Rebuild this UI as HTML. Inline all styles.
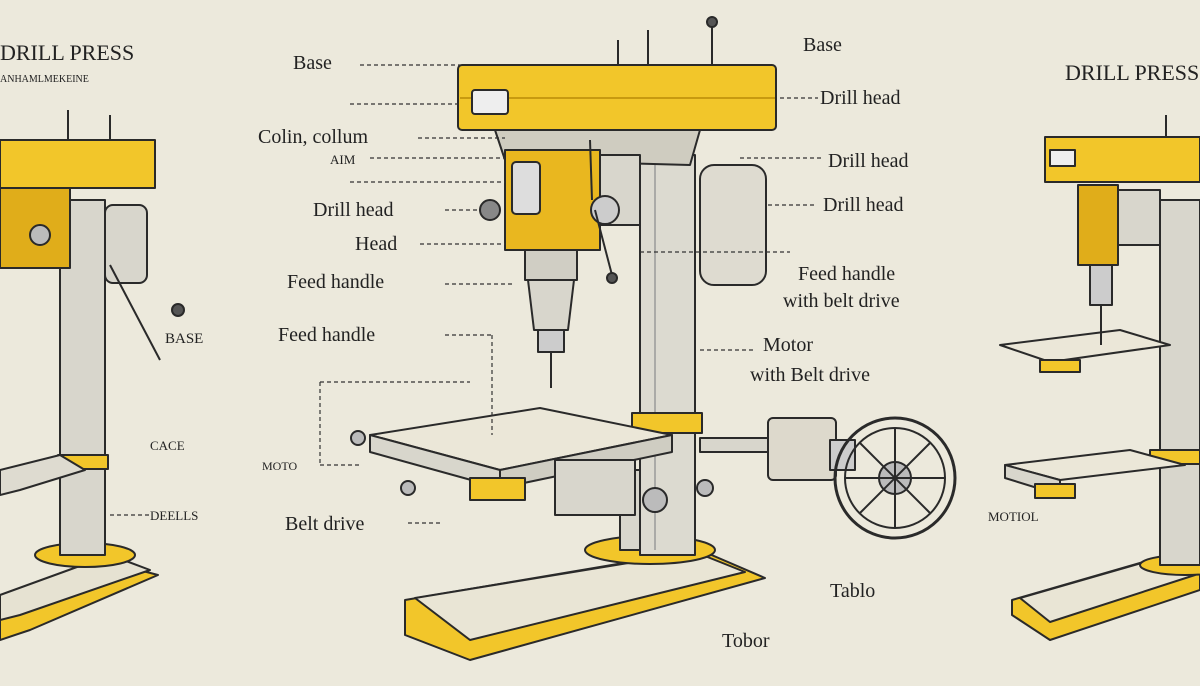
<!DOCTYPE html>
<html><head><meta charset="utf-8"><style>
html,body{margin:0;padding:0;background:#ece9dc;}
svg{display:block}
text{font-family:"Liberation Serif",serif;fill:#222;}
</style></head><body>
<svg width="1200" height="686" viewBox="0 0 1200 686" xmlns="http://www.w3.org/2000/svg">
<rect width="1200" height="686" fill="#ece9dc"/>
<g stroke="#2a2a2a" stroke-width="2" stroke-linejoin="round">
<!-- LEFT partial press -->
<polygon points="0,610 120,565 158,575 30,630 0,640" fill="#f2c62a"/>
<polygon points="0,595 110,555 150,570 20,615 0,620" fill="#e6e2d2"/>
<ellipse cx="85" cy="555" rx="50" ry="12" fill="#f2c62a"/>
<rect x="60" y="200" width="45" height="355" fill="#d8d6cc"/>
<rect x="58" y="455" width="50" height="14" fill="#f2c62a"/>
<polygon points="0,470 60,455 85,470 20,490 0,495" fill="#dedbd0"/>
<rect x="0" y="140" width="155" height="48" fill="#f2c62a"/>
<rect x="0" y="188" width="70" height="80" fill="#e0ad1a"/>
<rect x="105" y="205" width="42" height="78" rx="8" fill="#d8d6cc"/>
<line x1="110" y1="265" x2="160" y2="360" stroke-width="2"/>
<circle cx="40" cy="235" r="10" fill="#bbb"/>
<line x1="68" y1="110" x2="68" y2="140"/><line x1="110" y1="115" x2="110" y2="140"/>
<circle cx="178" cy="310" r="6" fill="#555"/>
<!-- CENTER base -->
<polygon points="405,600 700,550 765,578 470,660 405,635" fill="#f2c62a"/>
<polygon points="415,598 695,552 745,572 470,640" fill="#e9e5d5"/>
<ellipse cx="650" cy="550" rx="65" ry="14" fill="#f2c62a"/>
<rect x="620" y="470" width="70" height="80" fill="#d8d6cc"/>
<rect x="640" y="155" width="55" height="400" fill="#dcdad0"/>
<line x1="655" y1="160" x2="655" y2="550" stroke="#999" stroke-width="1.5"/>
<rect x="632" y="413" width="70" height="20" fill="#f2c62a"/>
<!-- table -->
<polygon points="370,435 540,408 672,435 500,470" fill="#ebe7d8"/>
<polygon points="370,435 500,470 500,488 370,452" fill="#d8d6cc"/>
<polygon points="500,470 672,435 672,452 500,488" fill="#cfcdc2"/>
<rect x="470" y="478" width="55" height="22" fill="#f2c62a"/>
<rect x="555" y="460" width="80" height="55" fill="#d8d6cc"/>
<circle cx="655" cy="500" r="12" fill="#bbb"/>
<circle cx="705" cy="488" r="8" fill="#bbb"/>
<circle cx="408" cy="488" r="7" fill="#bbb"/>
<circle cx="358" cy="438" r="7" fill="#bbb"/>
<!-- pulley arm & wheel -->
<rect x="700" y="438" width="75" height="14" fill="#d8d6cc"/>
<rect x="768" y="418" width="68" height="62" rx="5" fill="#ddd9cc"/>
<rect x="830" y="440" width="25" height="30" fill="#ccc"/>
<circle cx="895" cy="478" r="60" fill="none" stroke-width="3"/>
<circle cx="895" cy="478" r="50" fill="none"/>
<circle cx="895" cy="478" r="16" fill="#bbb"/>
<line x1="895" y1="428" x2="895" y2="528"/><line x1="845" y1="478" x2="945" y2="478"/>
<line x1="860" y1="443" x2="930" y2="513"/><line x1="930" y1="443" x2="860" y2="513"/>
<!-- motor -->
<rect x="700" y="165" width="66" height="120" rx="14" fill="#dedbd0"/>
<!-- head -->
<polygon points="495,130 700,130 690,165 505,160" fill="#cfccc0"/>
<rect x="458" y="65" width="318" height="65" rx="4" fill="#f2c62a"/>
<line x1="460" y1="98" x2="775" y2="98" stroke="#c89a10"/>
<rect x="472" y="90" width="36" height="24" rx="3" fill="#eee"/>
<rect x="505" y="150" width="95" height="100" fill="#e9b71f"/>
<rect x="512" y="162" width="28" height="52" rx="4" fill="#ddd"/>
<rect x="600" y="155" width="40" height="70" fill="#d8d6cc"/>
<circle cx="605" cy="210" r="14" fill="#ccc"/>
<line x1="595" y1="210" x2="612" y2="275"/><circle cx="612" cy="278" r="5" fill="#555"/>
<line x1="590" y1="140" x2="592" y2="200"/>
<circle cx="490" cy="210" r="10" fill="#888"/>
<rect x="525" y="250" width="52" height="30" fill="#d0cec4"/>
<polygon points="528,280 574,280 568,330 534,330" fill="#d8d6cc"/>
<rect x="538" y="330" width="26" height="22" fill="#ccc"/>
<line x1="551" y1="352" x2="551" y2="388"/>
<line x1="618" y1="40" x2="618" y2="65"/><line x1="648" y1="30" x2="648" y2="65"/><line x1="712" y1="25" x2="712" y2="65"/>
<circle cx="712" cy="22" r="5" fill="#555"/>
<!-- RIGHT partial -->
<polygon points="1012,600 1150,560 1200,570 1200,590 1050,640 1012,615" fill="#f2c62a"/>
<polygon points="1020,598 1145,562 1195,575 1050,622" fill="#e9e5d5"/>
<ellipse cx="1185" cy="565" rx="45" ry="10" fill="#f2c62a"/>
<rect x="1160" y="200" width="40" height="365" fill="#d8d6cc"/>
<rect x="1150" y="450" width="50" height="14" fill="#f2c62a"/>
<polygon points="1000,345 1120,330 1170,345 1050,362" fill="#ebe7d8"/>
<rect x="1040" y="360" width="40" height="12" fill="#f2c62a"/>
<polygon points="1005,465 1130,450 1185,465 1060,480" fill="#ebe7d8"/>
<polygon points="1005,465 1060,480 1060,495 1005,478" fill="#d8d6cc"/>
<rect x="1035" y="484" width="40" height="14" fill="#f2c62a"/>
<rect x="1045" y="137" width="155" height="45" fill="#f2c62a"/>
<rect x="1078" y="185" width="40" height="80" fill="#e0ad1a"/>
<rect x="1118" y="190" width="42" height="55" fill="#d8d6cc"/>
<rect x="1090" y="265" width="22" height="40" fill="#ccc"/>
<line x1="1101" y1="305" x2="1101" y2="345"/>
<rect x="1050" y="150" width="25" height="16" fill="#eee"/>
<line x1="1166" y1="115" x2="1166" y2="137"/>
</g>
<!-- leader lines -->
<g stroke="#333" stroke-width="1.2" stroke-dasharray="4,3" fill="none">
<line x1="360" y1="65" x2="460" y2="65"/><line x1="350" y1="104" x2="460" y2="104"/>
<line x1="418" y1="138" x2="505" y2="138"/><line x1="370" y1="158" x2="505" y2="158"/>
<line x1="350" y1="182" x2="505" y2="182"/><line x1="445" y1="210" x2="480" y2="210"/>
<line x1="420" y1="244" x2="505" y2="244"/><line x1="445" y1="284" x2="515" y2="284"/>
<line x1="445" y1="335" x2="492" y2="335"/><line x1="492" y1="335" x2="492" y2="435"/>
<line x1="320" y1="382" x2="470" y2="382"/><line x1="320" y1="382" x2="320" y2="465"/>
<line x1="320" y1="465" x2="360" y2="465"/>
<line x1="408" y1="523" x2="440" y2="523"/>
<line x1="780" y1="98" x2="818" y2="98"/><line x1="740" y1="158" x2="822" y2="158"/>
<line x1="768" y1="205" x2="815" y2="205"/><line x1="640" y1="252" x2="790" y2="252"/>
<line x1="700" y1="350" x2="755" y2="350"/><line x1="110" y1="515" x2="150" y2="515"/>
</g>
<g font-size="20">
<text x="293" y="69">Base</text>
<text x="258" y="143">Colin, collum</text>
<text x="330" y="164" font-size="13">AIM</text>
<text x="313" y="216">Drill head</text>
<text x="355" y="250">Head</text>
<text x="287" y="288">Feed handle</text>
<text x="278" y="341">Feed handle</text>
<text x="285" y="530">Belt drive</text>
<text x="803" y="51">Base</text>
<text x="820" y="104" fill="#555">Drill head</text>
<text x="828" y="167">Drill head</text>
<text x="823" y="211">Drill head</text>
<text x="798" y="280">Feed handle</text>
<text x="783" y="307">with belt drive</text>
<text x="763" y="351">Motor</text>
<text x="750" y="381">with Belt drive</text>
<text x="830" y="597">Tablo</text>
<text x="722" y="647">Tobor</text>
<text x="0" y="60" font-family="Liberation Sans" font-size="22">DRILL PRESS</text>
<text x="0" y="82" font-size="10">ANHAMLMEKEINE</text>
<text x="165" y="343" font-size="15">BASE</text>
<text x="150" y="450" font-size="13" fill="#777">CACE</text>
<text x="150" y="520" font-size="13">DEELLS</text>
<text x="262" y="470" font-size="12" fill="#777">MOTO</text>
<text x="1065" y="80" font-family="Liberation Sans" font-size="22">DRILL PRESS</text>
<text x="988" y="521" font-size="13" fill="#777">MOTIOL</text>
</g>
</svg>
</body></html>
